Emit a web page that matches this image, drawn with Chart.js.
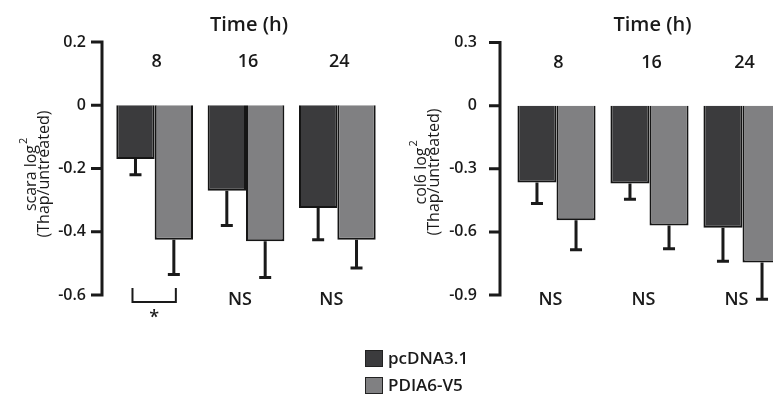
<!DOCTYPE html>
<html>
<head>
<meta charset="utf-8">
<script src="https://cdn.jsdelivr.net/npm/chart.js@4/dist/chart.umd.min.js"></script>
<style>
  html, body { margin: 0; padding: 0; background: #fff; overflow: hidden; }
  body { width: 773px; height: 394px; position: relative; }
  canvas { position: absolute; left: 0; top: 0; }
</style>
</head>
<body>
<canvas id="scaraChart" width="773" height="394"></canvas>
<canvas id="col6Chart" width="800" height="394"></canvas>
<script>
// data
const timeLabels = ["8", "16", "24"];
const seriesNames = ["pcDNA3.1", "PDIA6-V5"];

const scaraPcdna = [-0.17, -0.27, -0.325];
const scaraPcdnaErr = [0.05, 0.11, 0.10];
const scaraPdia6 = [-0.425, -0.43, -0.425];
const scaraPdia6Err = [0.11, 0.115, 0.09];
const scaraTicks = [0.2, 0, -0.2, -0.4, -0.6];
const scaraSig = ["*", "NS", "NS"];

const col6Pcdna = [-0.365, -0.37, -0.58];
const col6PcdnaErr = [0.10, 0.075, 0.16];
const col6Pdia6 = [-0.545, -0.57, -0.745];
const col6Pdia6Err = [0.14, 0.11, 0.175];
const col6Ticks = [0.3, 0, -0.3, -0.6, -0.9];
const col6Sig = ["NS", "NS", "NS"];

const darkGrey = "#3b3b3d";
const lightGrey = "#808082";
const ink = "#1a1a1a";
const FONT = "'Open Sans', 'Liberation Sans', sans-serif";
const W = "600 ";

Chart.defaults.font.family = FONT;
Chart.defaults.color = ink;

// axis line, error bars, labels, significance marks, legend
const figurePlugin = {
  id: "figure",
  afterDatasetsDraw(chart, args, opts) {
    const ctx = chart.ctx;
    const y = chart.scales.y;
    const x = chart.scales.x;
    const area = chart.chartArea;
    ctx.save();
    ctx.strokeStyle = ink;
    ctx.fillStyle = ink;

    // error bars (downward only)
    chart.data.datasets.forEach((ds, di) => {
      const meta = chart.getDatasetMeta(di);
      meta.data.forEach((bar, i) => {
        const v = ds.data[i];
        const top = y.getPixelForValue(v);
        const end = y.getPixelForValue(v - ds.errors[i]);
        ctx.lineWidth = 3;
        ctx.beginPath();
        ctx.moveTo(bar.x, top);
        ctx.lineTo(bar.x, end);
        ctx.moveTo(bar.x - 6, end);
        ctx.lineTo(bar.x + 6, end);
        ctx.stroke();
      });
    });

    // y axis line with outward ticks
    const ax = area.left - opts.axisGap;
    ctx.lineWidth = 3;
    ctx.beginPath();
    ctx.moveTo(ax, y.getPixelForValue(y.max) - 1.5);
    ctx.lineTo(ax, y.getPixelForValue(y.min) + 1.5);
    y.ticks.forEach(t => {
      const ty = y.getPixelForValue(t.value);
      ctx.moveTo(ax - 11, ty);
      ctx.lineTo(ax, ty);
    });
    ctx.stroke();

    // y title (two rotated lines)
    ctx.save();
    ctx.translate(opts.titleX, opts.titleY);
    ctx.rotate(-Math.PI / 2);
    ctx.textAlign = "center";
    ctx.textBaseline = "alphabetic";
    ctx.font = "16px " + FONT;
    const w1 = ctx.measureText(opts.yTitle[0]).width;
    ctx.fillText(opts.yTitle[0], -4, -1);
    ctx.font = "11px " + FONT;
    ctx.textAlign = "left";
    ctx.fillText("2", -4 + w1 / 2 + 1, -10);
    ctx.font = "16px " + FONT;
    ctx.textAlign = "center";
    ctx.fillText(opts.yTitle[1], 0, 12);
    ctx.restore();

    // top labels
    ctx.textAlign = "center";
    ctx.textBaseline = "middle";
    ctx.font = W + "20px " + FONT;
    ctx.fillText("Time (h)", x.getPixelForValue(1) + 3, 25);
    ctx.font = W + "18px " + FONT;
    chart.data.labels.forEach((lab, i) => {
      ctx.fillText(lab, x.getPixelForValue(i) + 2, area.top + 20);
    });

    // significance under each group
    const m0 = chart.getDatasetMeta(0);
    const m1 = chart.getDatasetMeta(1);
    opts.sig.forEach((s, i) => {
      const cx = x.getPixelForValue(i);
      if (s === "*") {
        const x0 = m0.data[i].x - 3;
        const x1 = m1.data[i].x + 2;
        ctx.lineWidth = 2;
        ctx.beginPath();
        ctx.moveTo(x0, 288);
        ctx.lineTo(x0, 302);
        ctx.lineTo(x1, 302);
        ctx.lineTo(x1, 288);
        ctx.stroke();
        ctx.font = W + "18px " + FONT;
        ctx.fillText("*", (x0 + x1) / 2, 318);
      } else {
        ctx.font = W + "18px " + FONT;
        ctx.fillText(s, cx - 6, 300);
      }
    });

    // legend
    if (opts.legend) {
      ctx.textAlign = "left";
      ctx.font = W + "17px " + FONT;
      chart.data.datasets.forEach((ds, di) => {
        const ly = 350 + di * 27;
        ctx.fillStyle = ds.backgroundColor;
        ctx.fillRect(365, ly, 18, 17);
        ctx.lineWidth = 1;
        ctx.strokeStyle = "#222";
        ctx.strokeRect(365.5, ly + 0.5, 17, 16);
        ctx.fillStyle = ink;
        ctx.fillText(ds.label, 388, ly + 9);
      });
    }
    ctx.restore();
  }
};

function makeChart(canvasId, a, aErr, b, bErr, ticks, fig) {
  return new Chart(document.getElementById(canvasId), {
    type: "bar",
    data: {
      labels: timeLabels,
      datasets: [
        { label: seriesNames[0], data: a, errors: aErr, backgroundColor: darkGrey,
          borderColor: "#151515", borderWidth: 2 },
        { label: seriesNames[1], data: b, errors: bErr, backgroundColor: lightGrey,
          borderColor: "#151515", borderWidth: 2 }
      ]
    },
    options: {
      responsive: false,
      animation: false,
      devicePixelRatio: 1,
      layout: { padding: fig.padding },
      datasets: { bar: { categoryPercentage: 0.84, barPercentage: 1.0 } },
      plugins: {
        legend: { display: false },
        tooltip: { enabled: false },
        figure: fig
      },
      scales: {
        x: { display: false },
        y: {
          min: ticks[ticks.length - 1],
          max: ticks[0],
          afterBuildTicks: s => { s.ticks = ticks.map(v => ({ value: v })); },
          afterFit: s => { s.width = fig.yWidth; },
          grid: { display: false, drawTicks: false },
          border: { display: false },
          ticks: {
            padding: fig.tickPad,
            font: { size: 16, weight: "600" },
            color: ink,
            callback: v => (v === 0 ? "0" : String(v))
          }
        }
      }
    },
    plugins: [figurePlugin]
  });
}

makeChart("scaraChart", scaraPcdna, scaraPcdnaErr, scaraPdia6, scaraPdia6Err, scaraTicks, {
  padding: { left: 0, right: 390, top: 42, bottom: 99 },
  yWidth: 109, tickPad: 23, axisGap: 7,
  titleX: 37, titleY: 174,
  yTitle: ["scara log", "(Thap/untreated)"],
  sig: scaraSig, legend: true
});

makeChart("col6Chart", col6Pcdna, col6PcdnaErr, col6Pdia6, col6Pdia6Err, col6Ticks, {
  padding: { left: 0, right: 11, top: 42, bottom: 99 },
  yWidth: 510, tickPad: 33, axisGap: 10,
  titleX: 427, titleY: 172,
  yTitle: ["col6 log", "(Thap/untreated)"],
  sig: col6Sig, legend: false
});
</script>
</body>
</html>
